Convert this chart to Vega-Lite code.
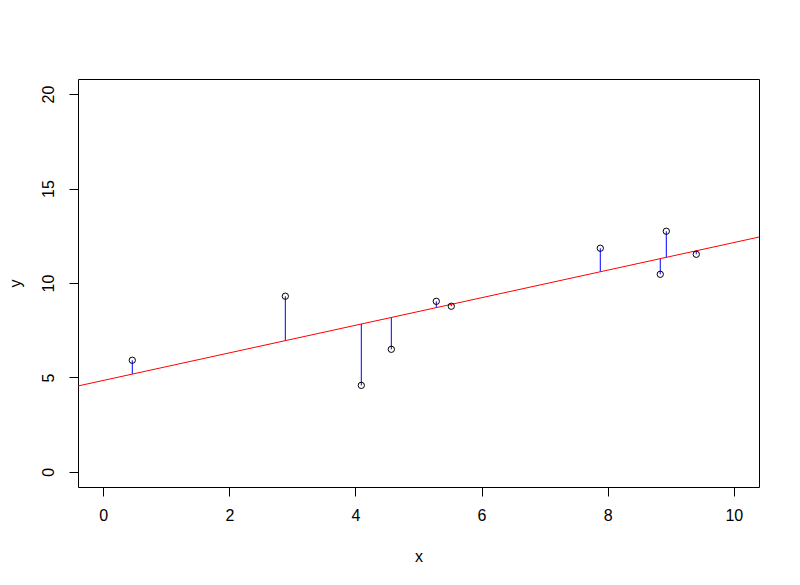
{
  "$schema": "https://vega.github.io/schema/vega-lite/v6.json",
  "autosize": "none",
  "padding": {"left": 78, "top": 79, "right": 41, "bottom": 98},
  "width": 681,
  "height": 408,
  "background": "white",
  "config": {
    "view": {"stroke": "black", "strokeWidth": 1},
    "font": "Liberation Sans",
    "axis": {
      "grid": false,
      "domain": false,
      "tickColor": "black",
      "tickSize": 9,
      "tickWidth": 1,
      "labelFont": "Liberation Sans",
      "labelFontSize": 16,
      "labelColor": "black",
      "titleFont": "Liberation Sans",
      "titleFontSize": 16,
      "titleFontWeight": "normal",
      "titleColor": "black"
    }
  },
  "datasets": {
    "pts": [
      {"x": 0.461, "y": 5.91, "yhat": 5.18},
      {"x": 2.888, "y": 9.30, "yhat": 6.95},
      {"x": 4.093, "y": 4.58, "yhat": 7.83},
      {"x": 4.569, "y": 6.49, "yhat": 8.18},
      {"x": 5.282, "y": 9.03, "yhat": 8.70},
      {"x": 5.520, "y": 8.77, "yhat": 8.87},
      {"x": 7.883, "y": 11.84, "yhat": 10.60},
      {"x": 8.834, "y": 10.46, "yhat": 11.29},
      {"x": 8.930, "y": 12.74, "yhat": 11.36},
      {"x": 9.405, "y": 11.52, "yhat": 11.71}
    ],
    "fit": [
      {"x": -0.4, "y": 4.548},
      {"x": 10.4, "y": 12.432}
    ]
  },
  "encoding": {
    "x": {
      "field": "x",
      "type": "quantitative",
      "scale": {"domain": [-0.4, 10.4], "nice": false, "zero": false},
      "axis": {
        "values": [0, 2, 4, 6, 8, 10],
        "labelPadding": 11,
        "title": "x",
        "titleY": 69,
        "titleBaseline": "middle"
      }
    },
    "y": {
      "field": "y",
      "type": "quantitative",
      "scale": {"domain": [-0.8, 20.8], "nice": false, "zero": false},
      "axis": {
        "values": [0, 5, 10, 15, 20],
        "labelAngle": -90,
        "labelPadding": 13,
        "title": "y",
        "titleX": -63,
        "titleY": 204,
        "titleAngle": -90,
        "titleBaseline": "middle"
      }
    }
  },
  "layer": [
    {
      "data": {"name": "pts"},
      "mark": {"type": "rule", "color": "blue", "strokeWidth": 1},
      "encoding": {"y2": {"field": "yhat"}}
    },
    {
      "data": {"name": "fit"},
      "mark": {"type": "line", "color": "red", "strokeWidth": 1, "clip": true}
    },
    {
      "data": {"name": "pts"},
      "mark": {"type": "point", "shape": "circle", "filled": false, "color": "black", "strokeWidth": 1, "size": 40, "opacity": 1}
    }
  ]
}
